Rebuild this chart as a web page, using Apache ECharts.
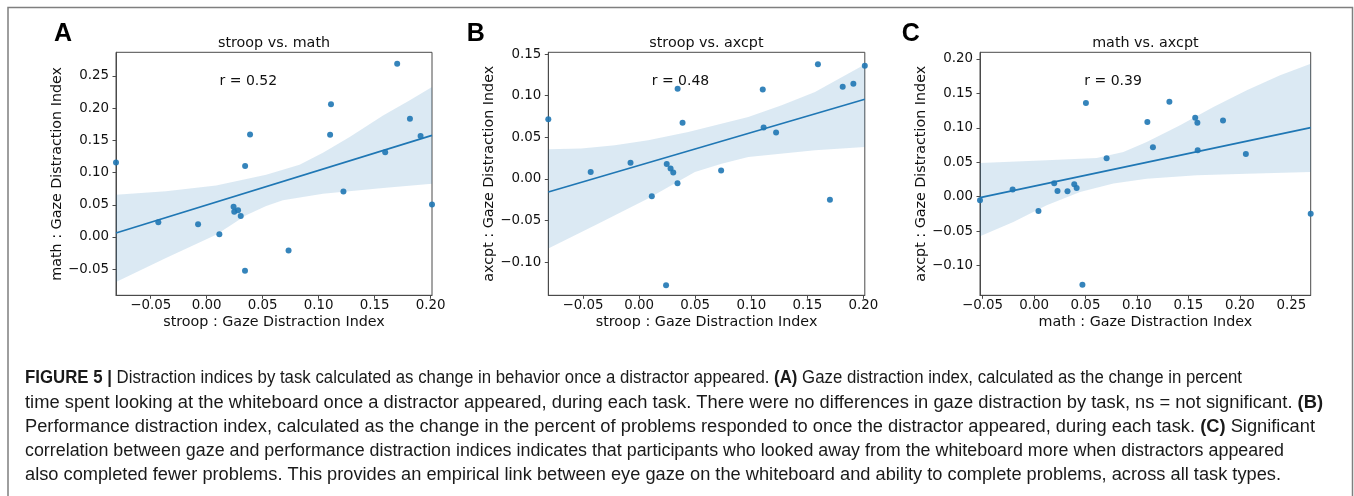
<!DOCTYPE html>
<html><head><meta charset="utf-8">
<script src="https://cdn.jsdelivr.net/npm/echarts@6/dist/echarts.min.js"></script>
<style>html,body{margin:0;padding:0;background:#fff}#c{width:1354px;height:496px}</style>
</head><body><div id="c"></div>
<script>
// ---- data (one entry per participant) ----
const stroop = [-0.0810, -0.0432, -0.0077, 0.0113, 0.0240, 0.0246, 0.0280, 0.0304, 0.0343, 0.0387,
                 0.0342, 0.0731, 0.1110, 0.1102, 0.1221, 0.1594, 0.1701, 0.1815, 0.1910, 0.2012];
const math   = [ 0.1155, 0.0228, 0.0196, 0.0043, 0.0470, 0.0391, 0.0414, 0.0325, 0.1101, 0.1590,
                -0.0525,-0.0208, 0.2058, 0.1587, 0.0705, 0.1315, 0.2688, 0.1836, 0.1566, 0.0504];
const axcpt  = [ 0.0716, 0.0083, 0.0195,-0.0208,-0.1278, 0.0179, 0.0127, 0.0079, 0.1083, 0.0675,
                -0.0053, 0.0103, 0.0618, 0.1074, 0.0559, 0.1377,-0.0250, 0.1107, 0.1144, 0.1359];

// regression fits: [x, y] at both ends
const fitA = [[-0.0810, 0.0062], [0.2012, 0.1577]];
const fitB = [[-0.0810, -0.0156], [0.2012, 0.0958]];
const fitC = [[-0.0525, -0.0015], [0.2688, 0.1002]];

// confidence band edges
const bandUpperA = [[-0.0810,0.0657],[-0.0364,0.0708],[0.0084,0.0800],[0.0531,0.0967],[0.0829,0.1122],
                    [0.1038,0.1308],[0.1277,0.1551],[0.1575,0.1887],[0.1814,0.2120],[0.2012,0.2327]];
const bandLowerA = [[-0.0810,-0.0698],[-0.0364,-0.0326],[0.0084,0.0036],[0.0352,0.0336],[0.0531,0.0481],
                    [0.0680,0.0569],[0.1038,0.0672],[0.1575,0.0760],[0.2012,0.0827]];
const bandUpperB = [[-0.0810,0.0357],[-0.0515,0.0365],[-0.0217,0.0405],[0.0080,0.0465],[0.0438,0.0565],
                    [0.0973,0.0745],[0.1271,0.0885],[0.1568,0.1046],[0.1866,0.1266],[0.2012,0.1374]];
const bandLowerB = [[-0.0810,-0.0837],[-0.0366,-0.0537],[0.0080,-0.0236],[0.0497,0.0084],[0.0735,0.0184],
                    [0.0973,0.0264],[0.1568,0.0345],[0.2012,0.0385]];
const bandUpperC = [[-0.0525,0.0489],[0.0123,0.0528],[0.0609,0.0561],[0.0868,0.0649],[0.1095,0.0794],
                    [0.1419,0.1036],[0.1743,0.1302],[0.2067,0.1544],[0.2391,0.1762],[0.2688,0.1931]];
const bandLowerC = [[-0.0525,-0.0576],[-0.0201,-0.0368],[0.0123,-0.0126],[0.0447,0.0068],[0.0771,0.0189],
                    [0.1095,0.0261],[0.1581,0.0310],[0.2067,0.0334],[0.2688,0.0358]];

// axis ranges
const rangeStroop = [-0.0810, 0.2012];
const rangeMathX  = [-0.0525, 0.2688];
const rangeMathY  = [-0.0905, 0.2866];
const rangeAxcptB = [-0.1398, 0.1522];
const rangeAxcptC = [-0.1433, 0.2096];

// tick labels
const ticksStroop = [-0.05, 0.00, 0.05, 0.10, 0.15, 0.20];
const ticksMath   = [-0.05, 0.00, 0.05, 0.10, 0.15, 0.20, 0.25];
const ticksAxcptB = [-0.10, -0.05, 0.00, 0.05, 0.10, 0.15];
const ticksAxcptC = [-0.10, -0.05, 0.00, 0.05, 0.10, 0.15, 0.20];

// texts
const panelLetters = ['A', 'B', 'C'];
const titles = ['stroop vs. math', 'stroop vs. axcpt', 'math vs. axcpt'];
const rTexts = ['r = 0.52', 'r = 0.48', 'r = 0.39'];
const xNames = ['stroop : Gaze Distraction Index', 'stroop : Gaze Distraction Index', 'math : Gaze Distraction Index'];
const yNames = ['math : Gaze Distraction Index', 'axcpt : Gaze Distraction Index', 'axcpt : Gaze Distraction Index'];
const captionLines = [
  [['FIGURE 5 |', 1], [' Distraction indices by task calculated as change in behavior once a distractor appeared. ', 0], ['(A)', 1], [' Gaze distraction index, calculated as the change in percent', 0]],
  [['time spent looking at the whiteboard once a distractor appeared, during each task. There were no differences in gaze distraction by task, ns = not significant. ', 0], ['(B)', 1]],
  [['Performance distraction index, calculated as the change in the percent of problems responded to once the distractor appeared, during each task. ', 0], ['(C)', 1], [' Significant', 0]],
  [['correlation between gaze and performance distraction indices indicates that participants who looked away from the whiteboard more when distractors appeared', 0]],
  [['also completed fewer problems. This provides an empirical link between eye gaze on the whiteboard and ability to complete problems, across all task types.', 0]]
];

// ---- layout ----
const layout = [
  {left: 116,   width: 316,   letterX: 54,    titleX: 274,    rX: 219.5, yGap: 52},
  {left: 548.3, width: 316.5, letterX: 466.7, titleX: 706.4,  rX: 651.7, yGap: 52},
  {left: 980,   width: 330.7, letterX: 901.7, titleX: 1145.4, rX: 1084.3, yGap: 51}
];
const gridTop = 52.3, gridH = 243;
const captionRight = [1242, 1323, 1315, 1284, 1281];
const captionY0 = 378.5, captionDY = 24.2;

const panels = [
  {xs: stroop, ys: math,  xr: rangeStroop, yr: rangeMathY,  xt: ticksStroop, yt: ticksMath,   fit: fitA, up: bandUpperA, lo: bandLowerA},
  {xs: stroop, ys: axcpt, xr: rangeStroop, yr: rangeAxcptB, xt: ticksStroop, yt: ticksAxcptB, fit: fitB, up: bandUpperB, lo: bandLowerB},
  {xs: math,   ys: axcpt, xr: rangeMathX,  yr: rangeAxcptC, xt: ticksMath,   yt: ticksAxcptC, fit: fitC, up: bandUpperC, lo: bandLowerC}
];

const FONT = 'DejaVu Sans';
const axisColor = '#4a4a4a';
const blue = '#1f77b4';
const fmt = v => (v < -1e-9 ? '\u2212' : '') + Math.abs(v).toFixed(2);

const option = {
  animation: false,
  backgroundColor: '#fff',
  grid: layout.map(l => ({left: l.left, top: gridTop, width: l.width, height: gridH, show: true,
        borderColor: axisColor, borderWidth: 1, backgroundColor: 'transparent', containLabel: false})),
  xAxis: panels.map((p, i) => ({
    type: 'value', gridIndex: i, min: p.xr[0], max: p.xr[1],
    name: xNames[i], nameLocation: 'middle', nameGap: 20,
    nameTextStyle: {fontFamily: FONT, fontSize: 14.3, color: '#111'},
    axisLine: {show: true, onZero: false, lineStyle: {color: axisColor, width: 1}},
    axisTick: {show: true, length: 3.5, lineStyle: {color: axisColor}, customValues: p.xt},
    axisLabel: {customValues: p.xt, formatter: fmt, margin: 4, fontFamily: FONT, fontSize: 13.4, color: '#111'},
    splitLine: {show: false}
  })),
  yAxis: panels.map((p, i) => ({
    type: 'value', gridIndex: i, min: p.yr[0], max: p.yr[1],
    name: yNames[i], nameLocation: 'middle', nameGap: layout[i].yGap,
    nameTextStyle: {fontFamily: FONT, fontSize: 14.3, color: '#111'},
    axisLine: {show: true, onZero: false, lineStyle: {color: axisColor, width: 1}},
    axisTick: {show: true, length: 3.5, lineStyle: {color: axisColor}, customValues: p.yt},
    axisLabel: {customValues: p.yt, formatter: fmt, margin: 7, fontFamily: FONT, fontSize: 13.4, color: '#111'},
    splitLine: {show: false}
  })),
  series: []
};

panels.forEach((p, i) => {
  option.series.push({
    type: 'custom', xAxisIndex: i, yAxisIndex: i, silent: true, z: 1,
    data: [[p.xr[0], p.yr[0]]],
    renderItem: (params, api) => {
      const pts = p.up.map(d => api.coord(d)).concat(p.lo.slice().reverse().map(d => api.coord(d)));
      return {type: 'polygon', shape: {points: pts}, style: {fill: 'rgba(31,119,180,0.16)', stroke: null}};
    }
  });
  option.series.push({
    type: 'line', xAxisIndex: i, yAxisIndex: i, z: 2, data: p.fit, showSymbol: false, silent: true,
    lineStyle: {color: blue, width: 1.7}
  });
  option.series.push({
    type: 'scatter', xAxisIndex: i, yAxisIndex: i, z: 3, symbolSize: 6, silent: true,
    data: p.xs.map((x, k) => [x, p.ys[k]]),
    itemStyle: {color: blue, opacity: 0.9}
  });
});

// caption measurement
const ctx = document.createElement('canvas').getContext('2d');
const CAP_SIZE = 17.5, CAP_FONT = 'Liberation Sans';
function measure(t, b) { ctx.font = (b ? 'bold ' : '') + CAP_SIZE + 'px "' + CAP_FONT + '"'; return ctx.measureText(t).width; }

const graphic = [];
graphic.push({type: 'rect', silent: true, shape: {x: 8, y: 7.5, width: 1344.5, height: 600},
              style: {fill: 'none', stroke: '#7f7f7f', lineWidth: 1.5}});
layout.forEach((l, i) => {
  graphic.push({type: 'text', silent: true, x: l.letterX, y: 34.5,
    style: {text: panelLetters[i], font: 'bold 25px "Liberation Sans"', fill: '#000', textAlign: 'left', textVerticalAlign: 'middle'}});
  graphic.push({type: 'text', silent: true, x: l.titleX, y: 43.2,
    style: {text: titles[i], font: '14.3px "' + FONT + '"', fill: '#111', textAlign: 'center', textVerticalAlign: 'middle'}});
  graphic.push({type: 'text', silent: true, x: l.rX, y: 81.7,
    style: {text: rTexts[i], font: '14px "' + FONT + '"', fill: '#111', textAlign: 'left', textVerticalAlign: 'middle'}});
});
captionLines.forEach((segs, j) => {
  const w = segs.reduce((s, [t, b]) => s + measure(t, b), 0);
  const sx = (captionRight[j] - 25) / w;
  const str = segs.map(([t, b]) => '{' + (b ? 'b' : 'n') + '|' + t + '}').join('');
  graphic.push({type: 'text', silent: true, x: 25, y: captionY0 + j * captionDY, scaleX: sx,
    style: {text: str, textAlign: 'left', textVerticalAlign: 'middle', fill: '#1a1a1a',
      rich: {
        n: {fontFamily: CAP_FONT, fontSize: CAP_SIZE, fontWeight: 'normal', color: '#1a1a1a'},
        b: {fontFamily: CAP_FONT, fontSize: CAP_SIZE, fontWeight: 'bold', color: '#000'}
      }}});
});
option.graphic = graphic;

const chart = echarts.init(document.getElementById('c'), null, {renderer: 'canvas'});
chart.setOption(option);
</script>
</body></html>
